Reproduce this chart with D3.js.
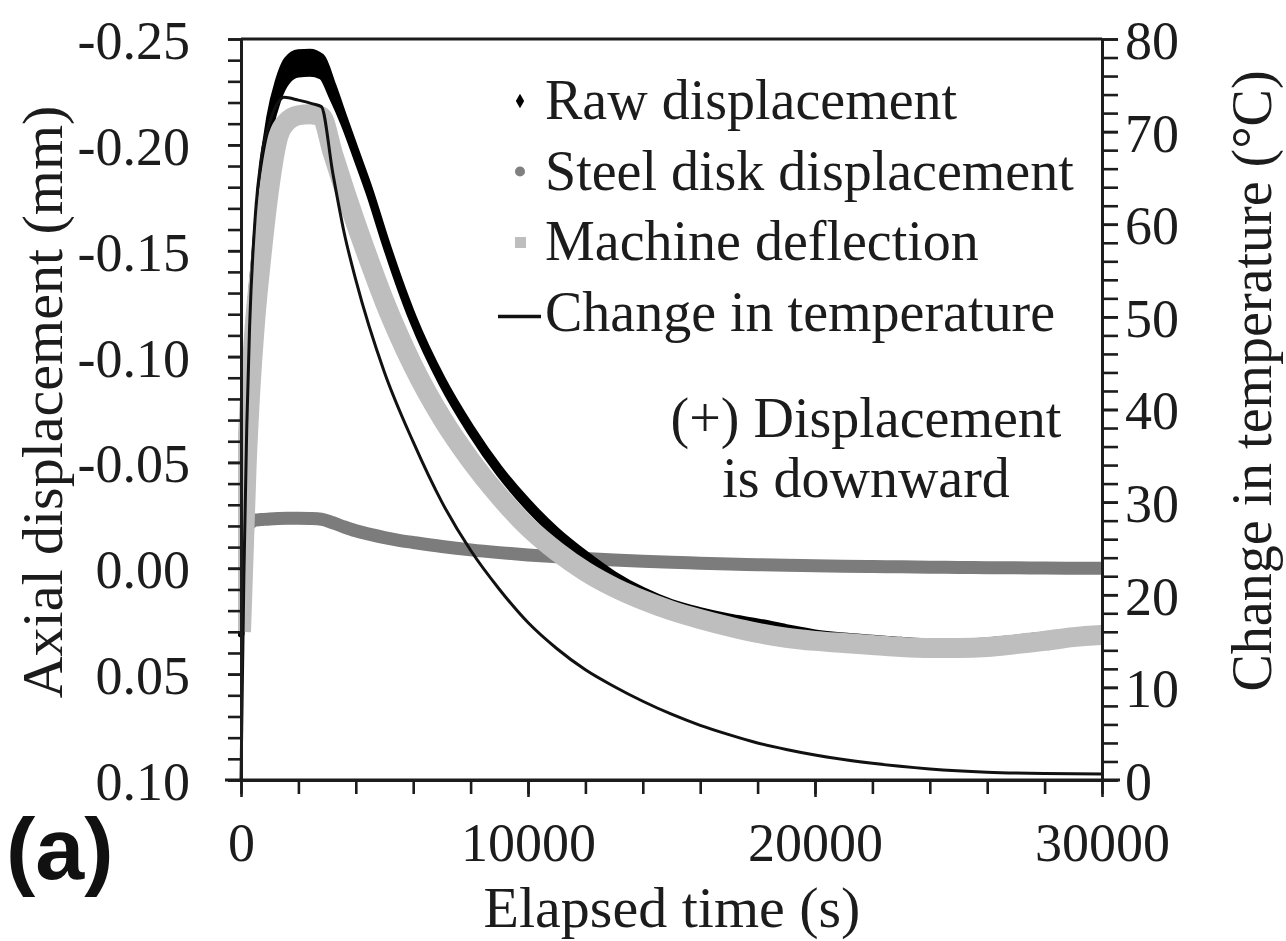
<!DOCTYPE html>
<html>
<head>
<meta charset="utf-8">
<script src="https://cdn.jsdelivr.net/npm/d3@7"></script>
<style>
  html, body { margin: 0; padding: 0; background: #fff; }
  svg { display: block; }
</style>
</head>
<body>
<svg id="chart" width="1286" height="941"></svg>
<script>
// Elapsed time grid (s) for the displacement records
const timeS = [0, 100, 200, 300, 500, 700, 1000, 1300, 1600, 2000, 2400, 2800, 3200, 3600, 4000, 4500,
  5000, 5500, 6000, 7000, 8000, 9000, 10000, 11000, 12000, 13000, 14000, 15000, 16000, 17000, 18000,
  19000, 20000, 21000, 22000, 23000, 24000, 25000, 26000, 27000, 28000, 29000, 30000];

// Raw displacement (mm): mean of readings and half of their scatter in each time bin
const rawMean = [0.030, -0.045, -0.090, -0.115, -0.150, -0.182, -0.210, -0.226, -0.235, -0.2385,
  -0.2388, -0.2370, -0.2250, -0.2110, -0.1960, -0.1770, -0.1555, -0.1355, -0.1175, -0.0885, -0.0655,
  -0.0460, -0.0300, -0.0165, -0.0055, 0.0040, 0.0115, 0.0172, 0.0210, 0.0240, 0.0263, 0.0290, 0.0315,
  0.0330, 0.0340, 0.0350, 0.0357, 0.0358, 0.0353, 0.0340, 0.0325, 0.0308, 0.0298];
const rawScatter = [0.001, 0.001, 0.001, 0.001, 0.001, 0.0012, 0.0030, 0.0040, 0.0050, 0.0050,
  0.0050, 0.0045, 0.0030, 0.0015, 0.0012, 0.0012, 0.0012, 0.0012, 0.0012, 0.0012, 0.0012, 0.0012,
  0.0012, 0.0012, 0.0012, 0.001, 0.001, 0.001, 0.001, 0.001, 0.001, 0.001, 0.001, 0.001,
  0.001, 0.001, 0.001, 0.001, 0.001, 0.001, 0.001, 0.001, 0.001];

// Steel disk displacement (mm)
const steelDisk = [0.0, -0.012, -0.019, -0.021, -0.0228, -0.023, -0.0233, -0.0235, -0.0236, -0.0236,
  -0.0235, -0.0232, -0.0215, -0.0195, -0.0177, -0.0160, -0.0145, -0.0132, -0.0122, -0.0103, -0.0087,
  -0.0074, -0.0063, -0.0054, -0.0046, -0.0039, -0.0033, -0.0028, -0.0024, -0.0020, -0.0017, -0.0014,
  -0.0012, -0.0010, -0.0008, -0.0007, -0.0005, -0.0004, -0.0003, -0.0002, -0.0001, 0.0, 0.0];

// Machine deflection (mm)
const machineDeflection = [0.030, -0.010, -0.050, -0.078, -0.118, -0.146, -0.181, -0.204, -0.211,
  -0.214, -0.2145, -0.2135, -0.1960, -0.1790, -0.1630, -0.1440, -0.1260, -0.1100, -0.0955, -0.0710,
  -0.0510, -0.0340, -0.0195, -0.0080, 0.0015, 0.0090, 0.0150, 0.0200, 0.0240, 0.0275, 0.0305, 0.0328,
  0.0343, 0.0353, 0.0362, 0.0372, 0.0377, 0.0377, 0.0372, 0.0358, 0.0343, 0.0325, 0.0315];

// Change in temperature (°C)
const tempTime = [0, 100, 200, 300, 500, 700, 1000, 1300, 1500, 2000, 2500, 2800, 3200, 3600, 4000, 5000,
  6000, 7000, 8000, 9000, 10000, 11000, 12000, 13000, 14000, 15000, 16000, 17000, 18000, 19000, 20000,
  22000, 24000, 26000, 28000, 30000];
const tempChange = [0, 22, 38, 49, 61, 67, 71, 73.2, 73.7, 73.4, 73.0, 72.7, 65.5, 59, 54, 44, 36.5, 30,
  24.8, 20.6, 17, 14.2, 11.9, 10.1, 8.5, 7.1, 5.9, 4.9, 4.0, 3.3, 2.7, 1.8, 1.2, 0.85, 0.7, 0.65];

// Tick values and labels
const leftTicks = [-0.25, -0.20, -0.15, -0.10, -0.05, 0.00, 0.05, 0.10];
const leftTickLabels = ["-0.25", "-0.20", "-0.15", "-0.10", "-0.05", "0.00", "0.05", "0.10"];
const bottomTicks = [0, 10000, 20000, 30000];
const bottomTickLabels = ["0", "10000", "20000", "30000"];
const rightTicks = [0, 10, 20, 30, 40, 50, 60, 70, 80];
const rightTickLabels = ["0", "10", "20", "30", "40", "50", "60", "70", "80"];

const legendLabels = ["Raw displacement", "Steel disk displacement", "Machine deflection", "Change in temperature"];
const noteLines = ["(+) Displacement", "is downward"];

const SERIF = "'Liberation Serif', 'Times New Roman', serif";
const INK = "#1c1c1c";

const svg = d3.select("#chart");
const plotLeft = 241, plotRight = 1102, plotTop = 39, plotBottom = 780;

const x = d3.scaleLinear().domain([0, 30000]).range([plotLeft, plotRight]);
const yL = d3.scaleLinear().domain([-0.25, 0.10]).range([plotTop, plotBottom]);
const yR = d3.scaleLinear().domain([0, 80]).range([plotBottom, plotTop]);

svg.append("defs").append("clipPath").attr("id", "plotClip")
  .append("rect").attr("x", plotLeft - 3).attr("y", plotTop)
  .attr("width", plotRight - plotLeft + 3).attr("height", plotBottom - plotTop);

const plot = svg.append("g").attr("clip-path", "url(#plotClip)");

const rows = timeS.map((t, i) => ({
  t, mean: rawMean[i], sc: rawScatter[i], steel: steelDisk[i], mach: machineDeflection[i]
}));

// Steel disk displacement: dense dark-grey markers form a band
plot.append("path")
  .datum(rows)
  .attr("fill", "none")
  .attr("stroke", "#7c7c7c")
  .attr("stroke-width", 13)
  .attr("stroke-linejoin", "round")
  .attr("d", d3.line().curve(d3.curveMonotoneX).x(d => x(d.t)).y(d => yL(d.steel)));

// Raw displacement: black band covering the scatter of readings
plot.append("path")
  .datum(rows)
  .attr("fill", "#000")
  .attr("stroke", "#000")
  .attr("stroke-width", 7)
  .attr("stroke-linejoin", "round")
  .attr("d", d3.area().curve(d3.curveMonotoneX)
    .x(d => x(d.t)).y0(d => yL(d.mean + d.sc)).y1(d => yL(d.mean - d.sc)));

// Machine deflection: light grey band
plot.append("path")
  .datum(rows)
  .attr("fill", "none")
  .attr("stroke", "#bebebe")
  .attr("stroke-width", 20)
  .attr("stroke-linejoin", "round")
  .attr("d", d3.line().curve(d3.curveMonotoneX).x(d => x(d.t)).y(d => yL(d.mach)));

// Change in temperature: thin black line on the right axis
plot.append("path")
  .datum(tempTime.map((t, i) => ({ t, v: tempChange[i] })))
  .attr("fill", "none")
  .attr("stroke", "#111")
  .attr("stroke-width", 3)
  .attr("d", d3.line().curve(d3.curveMonotoneX).x(d => x(d.t)).y(d => yR(d.v)));

// Axes
function styleAxis(g) {
  g.select(".domain").attr("stroke", INK).attr("stroke-width", 3);
  g.selectAll(".tick line").attr("stroke", INK).attr("stroke-width", 2.6);
  g.selectAll(".tick text").attr("font-family", SERIF).attr("font-size", 54).attr("fill", INK);
}

// top frame line
svg.append("line").attr("x1", plotLeft).attr("x2", plotRight).attr("y1", plotTop).attr("y2", plotTop)
  .attr("stroke", INK).attr("stroke-width", 3);

const minorLeft = d3.range(0, 36).map(i => -0.25 + i * 0.01);
svg.append("g").attr("transform", `translate(${plotLeft},0)`)
  .call(d3.axisLeft(yL).tickValues(minorLeft).tickSize(13).tickSizeOuter(0).tickFormat(""))
  .call(styleAxis);
svg.append("g").attr("transform", `translate(${plotLeft},0)`)
  .call(d3.axisLeft(yL).tickValues(leftTicks).tickSize(13).tickSizeOuter(0).tickPadding(38)
    .tickFormat((d, i) => leftTickLabels[i]))
  .call(styleAxis)
  .call(g => g.selectAll(".tick text").attr("dy", "0.36em"));

const minorRight = d3.range(0, 41).map(i => i * 2);
svg.append("g").attr("transform", `translate(${plotRight},0)`)
  .call(d3.axisRight(yR).tickValues(minorRight).tickSize(16).tickSizeOuter(0).tickFormat(""))
  .call(styleAxis);
svg.append("g").attr("transform", `translate(${plotRight},0)`)
  .call(d3.axisRight(yR).tickValues(rightTicks).tickSize(16).tickSizeOuter(0).tickPadding(7)
    .tickFormat((d, i) => rightTickLabels[i]))
  .call(styleAxis)
  .call(g => g.selectAll(".tick text").attr("dy", "0.36em"));

const minorBottom = d3.range(0, 16).map(i => i * 2000);
svg.append("g").attr("transform", `translate(0,${plotBottom})`)
  .call(d3.axisBottom(x).tickValues(minorBottom).tickSize(14).tickSizeOuter(0).tickFormat(""))
  .call(styleAxis);
svg.append("g").attr("transform", `translate(0,${plotBottom})`)
  .call(d3.axisBottom(x).tickValues(bottomTicks).tickSize(17).tickSizeOuter(0).tickPadding(26)
    .tickFormat((d, i) => bottomTickLabels[i]))
  .call(styleAxis);

// extend the bottom frame line past the side axes
svg.append("line").attr("x1", plotLeft - 16).attr("x2", plotRight + 18)
  .attr("y1", plotBottom).attr("y2", plotBottom)
  .attr("stroke", INK).attr("stroke-width", 3);

// Axis titles
svg.append("text")
  .attr("transform", "translate(62,402) rotate(-90)")
  .attr("text-anchor", "middle")
  .attr("font-family", SERIF).attr("font-size", 58).attr("fill", INK)
  .text("Axial displacement (mm)");

svg.append("text")
  .attr("transform", "translate(1271,381) rotate(-90)")
  .attr("text-anchor", "middle")
  .attr("font-family", SERIF).attr("font-size", 56).attr("fill", INK)
  .text("Change in temperature (°C)");

svg.append("text")
  .attr("x", 672).attr("y", 927)
  .attr("text-anchor", "middle")
  .attr("font-family", SERIF).attr("font-size", 58).attr("fill", INK)
  .text("Elapsed time (s)");

svg.append("text")
  .attr("x", 6).attr("y", 879)
  .attr("font-family", "'Liberation Sans', Arial, sans-serif").attr("font-weight", "bold")
  .attr("font-size", 88).attr("fill", "#111")
  .text("(a)");

// Legend
const legend = svg.append("g");
legendLabels.forEach((lab, i) => {
  const base = 119 + i * 70.5;
  legend.append("text")
    .attr("x", 545).attr("y", base)
    .attr("font-family", SERIF).attr("font-size", 56).attr("fill", INK)
    .text(lab);
  const cy = base - 18;
  if (i === 0) {
    legend.append("path").attr("d", d3.symbol(d3.symbolDiamond, 60)())
      .attr("transform", `translate(520,${cy})`).attr("fill", "#000");
  } else if (i === 1) {
    legend.append("circle").attr("cx", 520).attr("cy", cy).attr("r", 5).attr("fill", "#808080");
  } else if (i === 2) {
    legend.append("rect").attr("x", 515).attr("y", cy - 5).attr("width", 11).attr("height", 11)
      .attr("fill", "#bebebe");
  } else {
    legend.append("line").attr("x1", 498).attr("x2", 541).attr("y1", cy + 4).attr("y2", cy + 4)
      .attr("stroke", "#111").attr("stroke-width", 3.5);
  }
});

// Sign-convention note
noteLines.forEach((s, i) => {
  svg.append("text")
    .attr("x", 866).attr("y", 437 + i * 60)
    .attr("text-anchor", "middle")
    .attr("font-family", SERIF).attr("font-size", 56).attr("fill", INK)
    .text(s);
});
</script>
</body>
</html>
